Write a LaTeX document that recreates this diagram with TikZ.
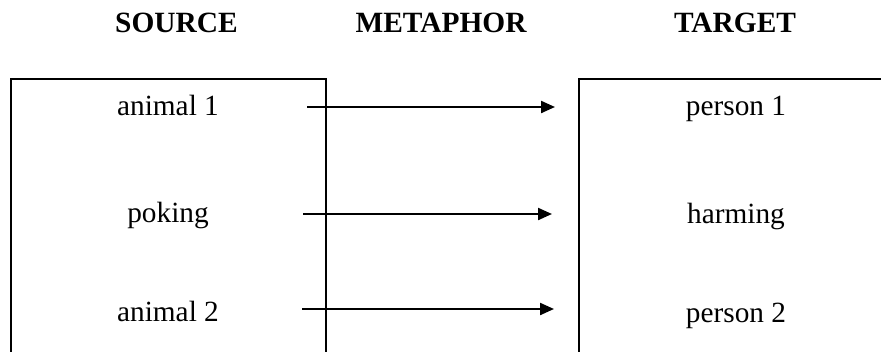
\documentclass[tikz,border=0pt]{standalone}
\usepackage{fontspec}
\setmainfont{Liberation Serif}
\usetikzlibrary{arrows.meta}
\begin{document}
\begin{tikzpicture}[x=1pt,y=-1pt,
  lbl/.style={anchor=base,inner sep=0pt,font=\fontsize{29.3}{35}\selectfont},
  hdr/.style={anchor=base,inner sep=0pt,font=\fontsize{29.4}{35}\selectfont\bfseries},
  boxline/.style={draw=black,line width=1.5pt},
  maparrow/.style={line width=2.2pt,-{Triangle[length=14pt,width=12pt]}}]
\useasboundingbox (0,0) rectangle (881,351);
\clip (0,0) rectangle (881,351);
% headers
\node[hdr] (hsrc) at (176.5,32) {SOURCE};
\node[hdr] (hmet) at (441,32) {METAPHOR};
\node[hdr] (htgt) at (735,32) {TARGET};
% boxes
\draw[boxline] (11,370) -- (11,79) -- (326,79) -- (326,370);
\draw[boxline] (579,370) -- (579,79) -- (900,79);
% source texts
\node[lbl] (s1) at (168,115) {animal 1};
\node[lbl] (s2) at (168,222) {poking};
\node[lbl] (s3) at (168,321) {animal 2};
% target texts
\node[lbl] (t1) at (736,115) {person 1};
\node[lbl] (t2) at (736,223) {harming};
\node[lbl] (t3) at (736,322) {person 2};
% arrow ends
\coordinate (a1) at (307,107);
\coordinate (b1) at (555,107);
\coordinate (a2) at (303,214);
\coordinate (b2) at (552,214);
\coordinate (a3) at (302,309);
\coordinate (b3) at (554,309);
\draw[maparrow] (a1) -- (b1);
\draw[maparrow] (a2) -- (b2);
\draw[maparrow] (a3) -- (b3);
\end{tikzpicture}
\end{document}
